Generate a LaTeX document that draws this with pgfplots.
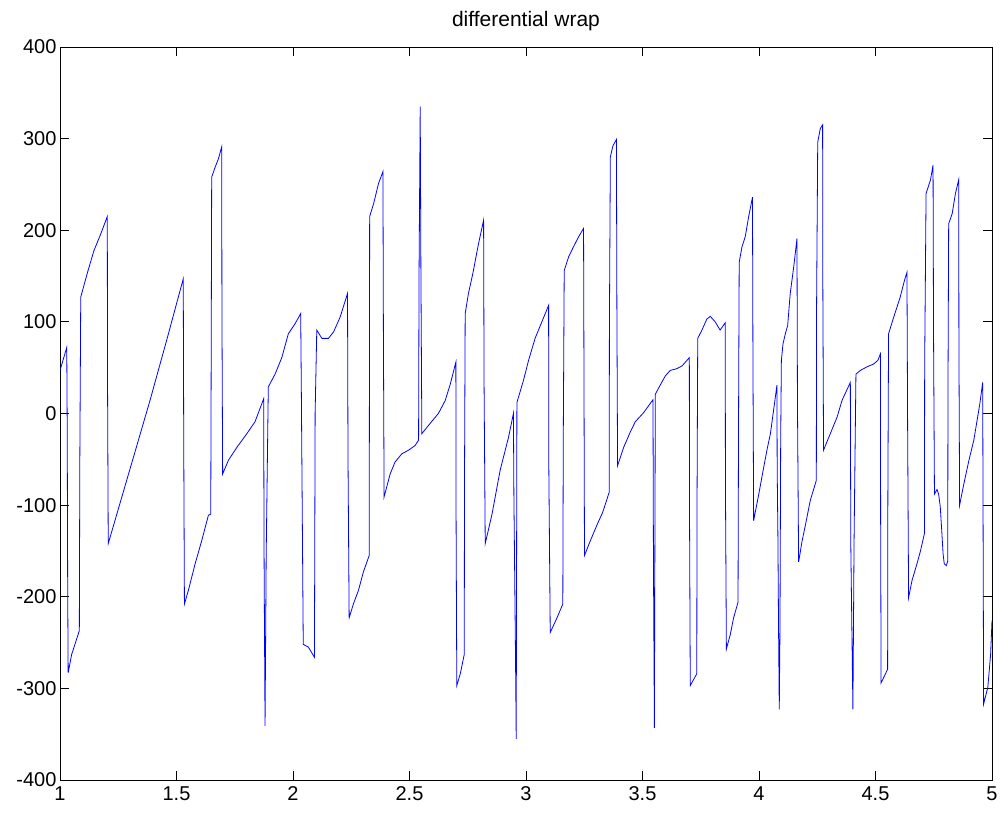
\documentclass[border=0pt]{standalone}
\usepackage{pgfplots}
\pgfplotsset{compat=1.18}
\usepackage{fontspec}
\setmainfont{Liberation Sans}

\begin{document}
\begin{tikzpicture}
  \begin{axis}[
      name=ax,
      scale only axis,
      width=932bp, height=733bp,
      xmin=1, xmax=5,
      ymin=-400, ymax=400,
      xtick={1,1.5,2,2.5,3,3.5,4,4.5,5},
      ytick={-400,-300,-200,-100,0,100,200,300,400},
      tick align=inside,
      major tick length=9bp,
      tick style={black, line width=0.8bp},
      axis line style={black, line width=0.8bp},
      ticklabel style={font=\fontsize{20bp}{24bp}\selectfont},
      xticklabel style={yshift=-3.3bp},
      /pgf/number format/assume math mode=true,
      /pgf/number format/fixed,
      title={differential wrap},
      title style={at={(0.5,1)}, anchor=base, yshift=15bp,
        font=\fontsize{21bp}{25bp}\selectfont},
    ]

    \addplot[color=blue, line width=0.8bp] coordinates {
      (1.000, 47) (1.029, 72) (1.031, -17) (1.033, -193) (1.035, -283)
      (1.050, -263) (1.064, -252) (1.083, -237) (1.085, -55) (1.089, 127)
      (1.117, 153) (1.146, 178) (1.175, 196) (1.203, 215) (1.204, 38)
      (1.207, -142) (1.386, 14) (1.460, 82) (1.529, 147) (1.531, -29)
      (1.534, -208) (1.551, -193) (1.580, -164) (1.608, -139) (1.637, -111)
      (1.647, -110) (1.649, 72) (1.651, 258) (1.666, 269) (1.680, 278)
      (1.694, 291) (1.695, 113) (1.698, -66) (1.723, -51) (1.759, -37)
      (1.802, -22) (1.837, -9) (1.874, 16) (1.876, -162) (1.880, -341)
      (1.885, -153) (1.894, 29) (1.923, 43) (1.952, 61) (1.980, 87)
      (2.009, 98) (2.033, 109) (2.036, 18) (2.044, -252) (2.066, -255)
      (2.092, -266) (2.093, -179) (2.095, 1) (2.102, 91) (2.124, 82)
      (2.152, 82) (2.174, 89) (2.202, 105) (2.234, 131) (2.236, -46)
      (2.241, -223) (2.259, -208) (2.281, -193) (2.302, -173) (2.327, -155)
      (2.328, 29) (2.329, 215) (2.346, 229) (2.367, 251) (2.386, 264)
      (2.388, 87) (2.391, -91) (2.417, -66) (2.438, -53) (2.467, -44)
      (2.496, -40) (2.524, -35) (2.539, -29) (2.541, 153) (2.546, 335)
      (2.549, 153) (2.553, -22) (2.588, -11) (2.624, 0) (2.653, 14)
      (2.675, 32) (2.699, 56) (2.700, -120) (2.703, -297) (2.718, -284)
      (2.735, -263) (2.736, -77) (2.739, 109) (2.753, 131) (2.772, 153)
      (2.796, 185) (2.818, 211) (2.820, 34) (2.825, -142) (2.854, -110)
      (2.889, -62) (2.925, -26) (2.946, 0) (2.948, -88) (2.955, -266)
      (2.958, -355) (2.961, 12) (2.989, 36) (3.011, 58) (3.039, 82)
      (3.068, 100) (3.097, 118) (3.098, -60) (3.104, -239) (3.133, -223)
      (3.158, -208) (3.160, -26) (3.164, 156) (3.183, 171) (3.204, 182)
      (3.226, 193) (3.247, 202) (3.249, 25) (3.251, -155) (3.276, -139)
      (3.304, -122) (3.329, -108) (3.357, -86) (3.358, 96) (3.362, 280)
      (3.373, 292) (3.388, 299) (3.390, 120) (3.393, -57) (3.419, -37)
      (3.448, -20) (3.469, -9) (3.505, 1) (3.545, 15) (3.547, -162)
      (3.551, -343) (3.555, 21) (3.576, 31) (3.598, 41) (3.619, 47)
      (3.648, 49) (3.670, 52) (3.684, 56) (3.701, 61) (3.702, -119)
      (3.705, -297) (3.733, -284) (3.734, -100) (3.737, 82) (3.755, 91)
      (3.776, 103) (3.791, 106) (3.812, 100) (3.833, 91) (3.855, 99)
      (3.856, -79) (3.860, -257) (3.877, -241) (3.891, -223) (3.910, -206)
      (3.912, -20) (3.915, 165) (3.927, 182) (3.941, 193) (3.955, 214)
      (3.972, 236) (3.974, 60) (3.977, -117) (3.999, -88) (4.020, -59)
      (4.034, -40) (4.049, -22) (4.066, 10) (4.077, 31) (4.078, -59)
      (4.081, -131) (4.084, -237) (4.087, -323) (4.090, -237) (4.093, -30)
      (4.096, 58) (4.103, 76) (4.113, 87) (4.123, 96) (4.134, 131)
      (4.149, 160) (4.163, 191) (4.165, 14) (4.170, -162) (4.185, -139)
      (4.199, -122) (4.220, -95) (4.246, -73) (4.247, 113) (4.252, 296)
      (4.263, 311) (4.273, 315) (4.274, 136) (4.277, -40) (4.306, -22)
      (4.335, -4) (4.356, 14) (4.363, 18) (4.392, 34) (4.394, -144)
      (4.403, -323) (4.408, -139) (4.416, 43) (4.435, 47) (4.464, 51)
      (4.492, 54) (4.510, 58) (4.521, 65) (4.522, -115) (4.524, -294)
      (4.543, -284) (4.552, -279) (4.553, -95) (4.556, 87) (4.578, 105)
      (4.606, 127) (4.624, 145) (4.635, 154) (4.638, -22) (4.642, -201)
      (4.657, -182) (4.678, -164) (4.693, -150) (4.710, -131) (4.711, 54)
      (4.717, 240) (4.736, 255) (4.747, 271) (4.749, 91) (4.753, -88)
      (4.764, -83) (4.771, -88) (4.778, -102) (4.785, -131) (4.790, -153)
      (4.795, -164) (4.804, -166) (4.810, -161) (4.811, 23) (4.814, 207)
      (4.829, 218) (4.843, 240) (4.857, 255) (4.858, 76) (4.861, -100)
      (4.879, -77) (4.901, -51) (4.922, -29) (4.948, 11) (4.960, 34)
      (4.962, -142) (4.964, -317) (4.982, -299) (4.994, -263) (5.000, -226)
    };

    \coordinate (sw) at (rel axis cs:0,0);
    \coordinate (ne) at (rel axis cs:1,1);
  \end{axis}
  \path ([xshift=-60bp,yshift=-33bp]sw) rectangle ([xshift=11bp,yshift=47bp]ne);
\end{tikzpicture}
\end{document}
